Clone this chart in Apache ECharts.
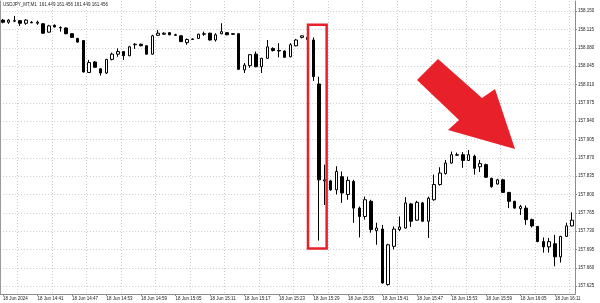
<!DOCTYPE html>
<html><head><meta charset="utf-8">
<script src="https://cdn.jsdelivr.net/npm/echarts@6/dist/echarts.min.js"></script>
<style>html,body{margin:0;padding:0;background:#fff}#c{width:600px;height:303px}</style>
</head><body><div id="c"></div>
<script>
const titleText = 'USDJPY_MT,M1  161.449 161.456 161.449 161.456';
const dayLabel = '18 Jun';
const startHour = 14, startMinute = 35;
const tickLabels = ['18 Jun 2024','18 Jun 14:41','18 Jun 14:47','18 Jun 14:53','18 Jun 14:59','18 Jun 15:05','18 Jun 15:11','18 Jun 15:17','18 Jun 15:23','18 Jun 15:29','18 Jun 15:35','18 Jun 15:41','18 Jun 15:47','18 Jun 15:53','18 Jun 15:59','18 Jun 16:05','18 Jun 16:11'];
const priceTicks = [157.625,157.660,157.695,157.730,157.765,157.800,157.835,157.870,157.905,157.940,157.975,158.010,158.045,158.080,158.115,158.150];

const opens = [158.133,158.129,158.131,158.132,158.127,158.129,158.127,158.126,158.110,158.123,
158.118,158.118,158.107,158.098,158.094,158.033,158.053,158.040,158.032,158.058,
158.068,158.073,158.065,158.086,158.087,158.084,158.068,158.104,158.106,158.109,
158.105,158.103,158.090,158.096,158.098,158.106,158.108,158.095,158.107,158.109,
158.107,158.107,158.038,158.046,158.068,158.044,158.060,158.079,158.075,158.074,
158.063,158.084,158.100,158.100,158.095,158.011,157.826,157.826,157.809,157.834,
157.800,157.825,157.774,157.758,157.787,157.731,157.734,157.628,157.701,157.733,
157.736,157.782,157.751,157.784,157.749,157.790,157.819,157.840,157.860,157.875,
157.876,157.865,157.873,157.853,157.857,157.831,157.820,157.828,157.804,157.787,
157.773,157.774,157.752,157.739,157.710,157.700,157.706,157.681,157.720,157.740];
const closes = [158.129,158.133,158.132,158.127,158.133,158.128,158.129,158.108,158.122,158.120,
158.119,158.107,158.100,158.091,158.034,158.052,158.043,158.032,158.058,158.068,
158.073,158.065,158.082,158.087,158.084,158.068,158.103,158.108,158.108,158.105,
158.104,158.092,158.096,158.097,158.106,158.107,158.095,158.105,158.111,158.105,
158.106,158.039,158.047,158.067,158.044,158.060,158.082,158.075,158.074,158.062,
158.086,158.095,158.103,158.096,158.025,157.828,157.828,157.809,157.844,157.803,
157.827,157.774,157.758,157.790,157.733,157.736,157.631,157.704,157.734,157.738,
157.784,157.749,157.785,157.749,157.793,157.819,157.841,157.860,157.876,157.876,
157.865,157.876,157.850,157.859,157.833,157.815,157.828,157.804,157.787,157.774,
157.777,157.752,157.740,157.710,157.700,157.710,157.681,157.720,157.740,157.751];
const lows = [158.127,158.126,158.129,158.122,158.124,158.127,158.124,158.107,158.109,158.119,
158.111,158.106,158.099,158.090,158.033,158.032,158.042,158.027,158.030,158.056,
158.063,158.057,158.064,158.078,158.083,158.067,158.067,158.103,158.105,158.104,
158.103,158.091,158.086,158.095,158.097,158.103,158.094,158.092,158.106,158.104,
158.105,158.038,158.032,158.042,158.043,158.032,158.059,158.073,158.062,158.061,
158.062,158.083,158.098,158.095,158.017,157.712,157.780,157.807,157.800,157.784,
157.790,157.746,157.718,157.752,157.727,157.704,157.630,157.626,157.695,157.730,
157.735,157.738,157.750,157.748,157.717,157.788,157.817,157.838,157.859,157.874,
157.851,157.864,157.838,157.843,157.832,157.813,157.819,157.803,157.774,157.773,
157.761,157.742,157.737,157.709,157.689,157.689,157.663,157.670,157.719,157.739];
const highs = [158.135,158.135,158.141,158.133,158.135,158.131,158.132,158.127,158.124,158.125,
158.121,158.119,158.108,158.099,158.095,158.057,158.055,158.041,158.059,158.071,
158.079,158.074,158.084,158.089,158.088,158.085,158.105,158.114,158.110,158.110,
158.107,158.104,158.098,158.098,158.107,158.111,158.109,158.108,158.127,158.110,
158.108,158.108,158.051,158.068,158.073,158.061,158.095,158.081,158.089,158.075,
158.089,158.097,158.104,158.101,158.100,158.025,157.857,157.828,157.854,157.844,
157.834,157.828,157.777,157.796,157.790,157.746,157.742,157.706,157.739,157.758,
157.795,157.784,157.788,157.786,157.796,157.838,157.852,157.866,157.882,157.880,
157.881,157.885,157.876,157.866,157.859,157.832,157.830,157.830,157.805,157.788,
157.780,157.779,157.754,157.740,157.718,157.717,157.723,157.721,157.746,157.766];

// annotation: highlight box (category index range, price range) and arrow shape
const boxStartIndex = 53.05, boxEndIndex = 56.3, boxTopPrice = 158.124, boxBottomPrice = 157.697;
const arrowPoints = [[438,59],[482,98],[495,89],[515,149],[448,130],[459,120],[417,80]];

const categories = [];
for (let i = 0; i < opens.length; i++) {
  const m = startHour * 60 + startMinute + i;
  categories.push(dayLabel + ' ' + String(Math.floor(m / 60)).padStart(2, '0') + ':' + String(m % 60).padStart(2, '0'));
}
const candles = opens.map((o, i) => [o, closes[i], lows[i], highs[i]]);

const FONT = '"Liberation Sans", Arial, sans-serif';
const RED = '#e8202a';
const chart = echarts.init(document.getElementById('c'), null, {renderer: 'canvas'});
const option = {
  animation: false,
  backgroundColor: '#ffffff',
  grid: {left: 0, right: 25, top: 1, bottom: 9},
  xAxis: {
    type: 'category', data: categories, boundaryGap: true,
    axisLine: {lineStyle: {color: '#8c8c8c', width: 1}},
    axisTick: {show: true, interval: (i) => i % 6 === 0, alignWithLabel: true, length: 2, lineStyle: {color: '#8c8c8c'}},
    axisLabel: {interval: (i) => i % 6 === 0, formatter: (v, i) => tickLabels[i / 6], align: 'left',
      fontSize: 4.5, color: '#222', margin: 2, fontFamily: FONT},
    splitLine: {show: true, interval: (i) => i % 6 === 3, lineStyle: {color: '#cdcdcd', type: [1, 2]}}
  },
  yAxis: [{
    type: 'value', position: 'right', min: 157.610, max: 158.1695,
    axisLine: {show: true, lineStyle: {color: '#8c8c8c'}},
    axisTick: {show: true, customValues: priceTicks, length: 2, lineStyle: {color: '#8c8c8c'}},
    axisLabel: {customValues: priceTicks, formatter: (v) => v.toFixed(3), fontSize: 4.5, color: '#222', margin: 3, fontFamily: FONT},
    splitLine: {show: true, lineStyle: {color: '#cdcdcd', type: [1, 2]}}
  }, {
    type: 'value', position: 'left', min: 157.610, max: 158.1695,
    axisLine: {show: true, lineStyle: {color: '#9a9a9a'}},
    axisTick: {show: false}, axisLabel: {show: false}, splitLine: {show: false}
  }],
  series: [{
    type: 'candlestick', data: candles, barWidth: 3,
    itemStyle: {color: '#ffffff', color0: '#000000', borderColor: '#000000', borderColor0: '#000000', borderWidth: 1}
  }],
  graphic: [
    {type: 'text', id: 'title', left: 3, top: 2, style: {text: titleText, fontSize: 4.5, fontFamily: FONT, fill: '#222'}},
    {type: 'polygon', id: 'arrow', shape: {points: arrowPoints}, style: {fill: RED}, z: 100}
  ]
};
chart.setOption(option);

const x0 = chart.convertToPixel({xAxisIndex: 0}, categories[0]);
const bw = chart.convertToPixel({xAxisIndex: 0}, categories[1]) - x0;
const idxPx = (f) => x0 + f * bw;
const yPx = (p) => chart.convertToPixel({yAxisIndex: 0}, p);
chart.setOption({graphic: [{
  type: 'rect', id: 'box',
  shape: {x: idxPx(boxStartIndex), y: yPx(boxTopPrice), width: idxPx(boxEndIndex) - idxPx(boxStartIndex), height: yPx(boxBottomPrice) - yPx(boxTopPrice)},
  style: {fill: 'none', stroke: RED, lineWidth: 2.5}, z: 100
}]});
</script>
</body></html>
